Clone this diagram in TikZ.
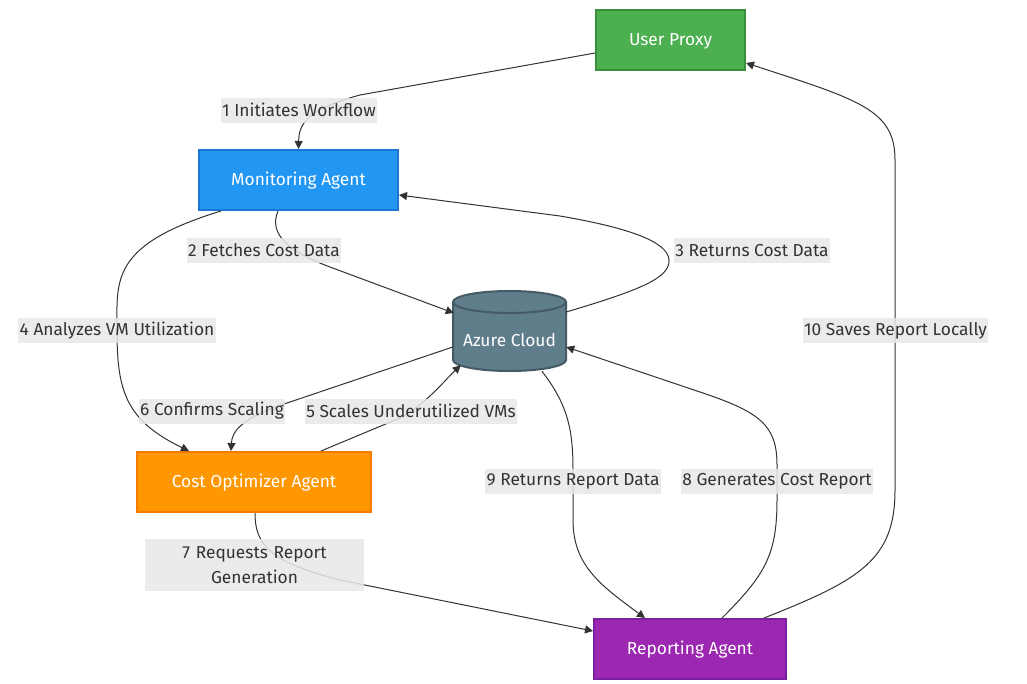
\documentclass[tikz,border=0pt]{standalone}
\usepackage{fontspec}
\setmainfont{Fira Sans}
\usetikzlibrary{arrows.meta,calc}
\definecolor{edgec}{HTML}{333333}
\definecolor{lblbg}{HTML}{E8E8E8}
\definecolor{upfill}{HTML}{4CAF50}\definecolor{updraw}{HTML}{388E3C}
\definecolor{monfill}{HTML}{2196F3}\definecolor{mondraw}{HTML}{1976D2}
\definecolor{cofill}{HTML}{FF9800}\definecolor{codraw}{HTML}{F57C00}
\definecolor{repfill}{HTML}{9C27B0}\definecolor{repdraw}{HTML}{7B1FA2}
\definecolor{azfill}{HTML}{607D8B}\definecolor{azdraw}{HTML}{455A64}
\newcommand{\ntext}[2][-4.3pt]{\raisebox{#1}[0pt][0pt]{#2}}
\tikzset{
  agent/.style={rectangle, line width=1.5pt, text=white, font=\fontsize{13}{15}\selectfont, minimum height=45pt, inner sep=0pt},
  flow/.style={draw=edgec, line width=0.75pt, -{Triangle[length=6pt,width=6pt]}},
  lbl/.style={fill=lblbg, fill opacity=0.85, text opacity=1, text=edgec, inner xsep=1pt, inner ysep=0pt, minimum height=18.75pt, font=\fontsize{13}{15}\selectfont, align=center}
}
\begin{document}
\begin{tikzpicture}[x=0.75pt,y=-0.75pt]
\useasboundingbox[fill=white] (0,0) rectangle (1027,683);
% nodes
\node[agent, fill=upfill, draw=updraw, minimum width=111.75pt] (up) at (670.5,39.5) {\ntext{User Proxy}};
\node[agent, fill=monfill, draw=mondraw, minimum width=149.25pt] (mon) at (298.5,180) {\ntext{Monitoring Agent}};
\node[agent, fill=cofill, draw=codraw, minimum width=175.5pt] (co) at (254,482) {\ntext{Cost Optimizer Agent}};
\node[agent, fill=repfill, draw=repdraw, minimum width=144pt] (rep) at (690,649) {\ntext{Reporting Agent}};
% cylinder
\filldraw[fill=azfill, draw=azdraw, line width=1.5pt] (453,302) -- (453,360) arc[start angle=180,end angle=360,x radius=42.375pt,y radius=8.25pt] -- (566,302) arc[start angle=0,end angle=180,x radius=42.375pt,y radius=8.25pt] -- cycle;
\draw[azdraw, line width=1.5pt] (453,302) arc[start angle=180,end angle=360,x radius=42.375pt,y radius=8.25pt];
\node[rectangle, minimum width=84.75pt, minimum height=60pt, inner sep=0pt, text=white, font=\fontsize{13}{15}\selectfont] (az) at (509.5,331) {\ntext[-11.8pt]{Azure Cloud}};
% edges
\draw[flow] ($(up.west)+(0,13.5)$) -- (360,95) .. controls (305,110) and (299,125) .. (mon.north);
\draw[flow] ($(mon.south)+(-20.5,0)$) .. controls (268,235) and (290,252) .. (330,267) -- ($(az.west)+(1,-18)$);
\draw[flow] ($(az.east)+(0,-19)$) .. controls (640,290) and (670,278) .. (669,260) .. controls (668,242) and (630,228) .. (560,216) -- ($(mon.east)+(0,15)$);
\draw[flow] ($(mon.south west)+(23,0)$) .. controls (110,245) and (117,280) .. (117,330) .. controls (117,390) and (125,420) .. ($(co.north west)+(53,0)$);
\draw[flow] ($(co.north west)+(185,0)$) -- (400,418) .. controls (425,405) and (445,380) .. ($(az.south west)+(8,-6)$);
\draw[flow] ($(az.west)+(0,16)$) -- (290,402) .. controls (240,418) and (232,432) .. ($(co.north west)+(95,0)$);
\draw[flow] ($(co.south)+(1,0)$) .. controls (255,545) and (270,562) .. (340,580) -- ($(rep.west)+(0,-18)$);
\draw[flow] ($(rep.north)+(32,0)$) .. controls (765,575) and (777,555) .. (777,500) -- (777,465) .. controls (777,425) and (760,412) .. (700,392) -- ($(az.east)+(0,16)$);
\draw[flow] ($(az.south)+(32.5,0)$) .. controls (568,405) and (573,430) .. (573,470) -- (573,520) .. controls (573,565) and (600,585) .. ($(rep.north)+(-45,0)$);
\draw[flow] ($(rep.north)+(74,0)$) .. controls (860,580) and (895,560) .. (895,490) -- (895,160) .. controls (895,110) and (860,100) .. ($(up.east)+(0,23.5)$);
% labels
\node[lbl] (l1) at (299,110) {1 Initiates Workflow};
\node[lbl] (l2) at (264,250.5) {2 Fetches Cost Data};
\node[lbl] (l3) at (752,250.5) {3 Returns Cost Data};
\node[lbl] (l4) at (117,330.5) {4 Analyzes VM Utilization};
\node[lbl] (l10) at (895.5,330.5) {10 Saves Report Locally};
\node[lbl] (l6) at (212,411) {6 Confirms Scaling};
\node[lbl] (l5) at (411,411) {5 Scales Underutilized VMs};
\node[lbl] (l9) at (573,481) {9 Returns Report Data};
\node[lbl] (l8) at (777,481) {8 Generates Cost Report};
\node[lbl, minimum height=39pt, text width=162pt] (l7) at (254.5,565) {7 Requests Report\\[4pt]Generation};
\end{tikzpicture}
\end{document}
